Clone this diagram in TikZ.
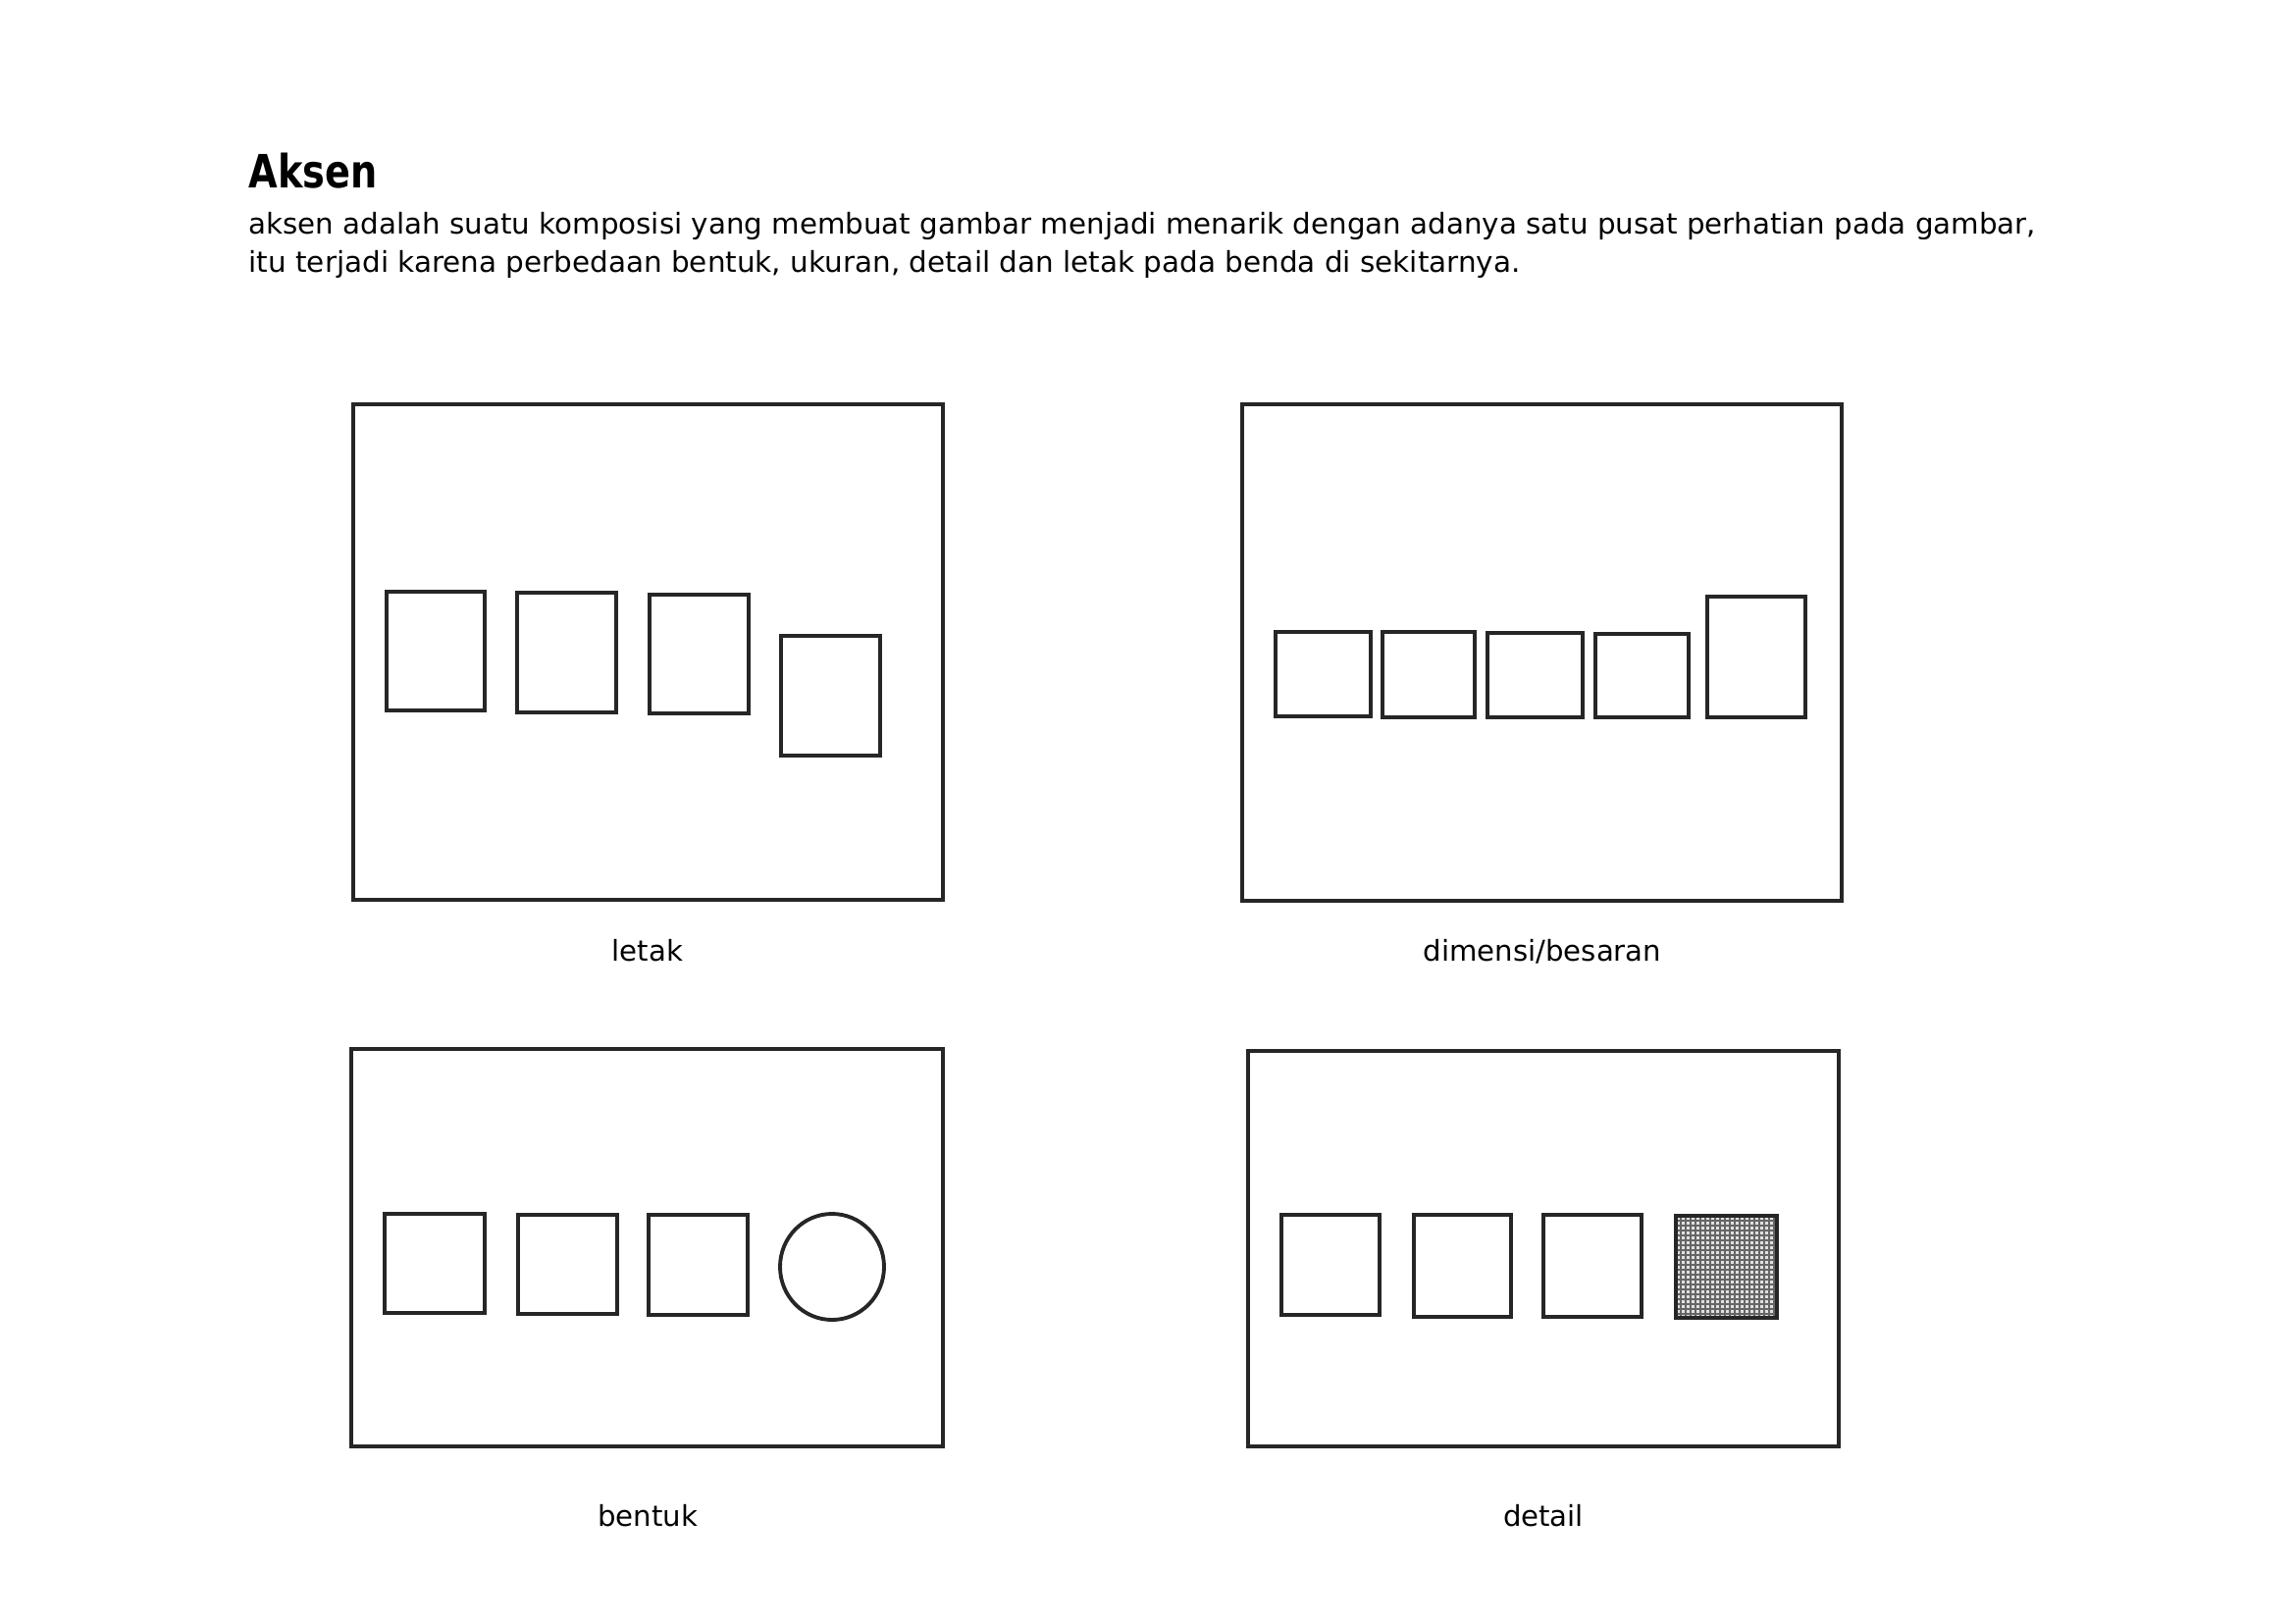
\documentclass[tikz,border=0pt]{standalone}
\usepackage{fontspec}
\setmainfont{DejaVu Sans}
\usepackage{graphicx}
\usetikzlibrary{positioning}

\begin{document}
\begin{tikzpicture}[
    x={(0.01cm,0)}, y={(0,-0.01cm)},
    frame/.style={draw=black!85, line width=1.2pt},
    box/.style={draw=black!85, line width=1.1pt},
    hatch/.style={draw=black!60, line width=0.3pt},
    title/.style={anchor=base west, inner sep=0pt, font=\bfseries\fontsize{13.3}{16}\selectfont},
    body/.style={anchor=base west, inner sep=0pt, font=\fontsize{8.3}{10}\selectfont},
    caption/.style={anchor=base, inner sep=0pt, font=\fontsize{8.3}{10}\selectfont}
]
\useasboundingbox (0,0) rectangle (2339,1654);

% Heading
\node[title] (head) at (253,191) {\resizebox{1.31cm}{\height}{Aksen}};
\node[body] (line1) at (253,238) {\resizebox{18.2cm}{\height}{aksen adalah suatu komposisi yang membuat gambar menjadi menarik dengan adanya satu pusat perhatian pada gambar,}};
\node[body] (line2) at (253,277) {\resizebox{12.95cm}{\height}{itu terjadi karena perbedaan bentuk, ukuran, detail dan letak pada benda di sekitarnya.}};

% letak
\draw[frame] (360,412) rectangle (961,917);
\draw[box] (394,603) rectangle (494,724);
\draw[box] (527,604) rectangle (628,726);
\draw[box] (662,606) rectangle (763,727);
\draw[box] (796,648) rectangle (897,770);
\node[caption] (letak) at (660,979) {letak};

% dimensi/besaran
\draw[frame] (1266,412) rectangle (1877,918);
\draw[box] (1300,644) rectangle (1397,730);
\draw[box] (1409,644) rectangle (1503,731);
\draw[box] (1516,645) rectangle (1613,731);
\draw[box] (1626,646) rectangle (1721,731);
\draw[box] (1740,608) rectangle (1840,731);
\node[caption] (dimensi) at (1572,979) {dimensi/besaran};

% bentuk
\draw[frame] (358,1069) rectangle (961,1474);
\draw[box] (392,1237) rectangle (494,1338);
\draw[box] (528,1238) rectangle (629,1339);
\draw[box] (661,1238) rectangle (762,1340);
\draw[box] (848,1291) ellipse (53 and 54);
\node[caption] (bentuk) at (660,1555) {bentuk};

% detail
\draw[frame] (1272,1071) rectangle (1874,1474);
\draw[box] (1306,1238) rectangle (1406,1340);
\draw[box] (1441,1238) rectangle (1540,1342);
\draw[box] (1573,1238) rectangle (1673,1342);
\fill[black!12] (1708,1239) rectangle (1811,1343);
\foreach \gx in {1713,1718,...,1808} \draw[hatch] (\gx,1239) -- (\gx,1343);
\foreach \gy in {1244,1249,...,1340} \draw[hatch] (1708,\gy) -- (1811,\gy);
\draw[box, line width=1.4pt] (1708,1239) rectangle (1811,1343);
\node[caption] (detail) at (1573,1555) {detail};
\end{tikzpicture}
\end{document}
